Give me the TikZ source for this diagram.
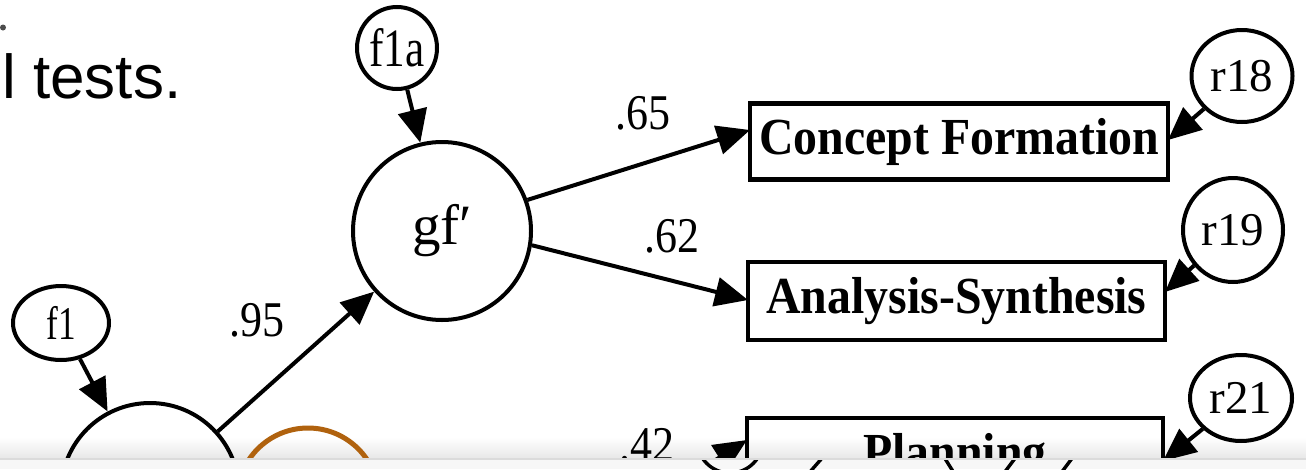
\documentclass[tikz,border=0pt]{standalone}
\usepackage{fontspec}
\setmainfont{Liberation Serif}
\newfontfamily\sansf{Liberation Sans}
\usetikzlibrary{arrows.meta,shapes.geometric}
\definecolor{ochre}{RGB}{176,98,14}
\begin{document}
\begin{tikzpicture}[x=1pt,y=-1pt,
  latent/.style={circle,draw,line width=4,minimum size=178,inner sep=0},
  resid/.style={ellipse,draw,line width=4,inner sep=0},
  obsbox/.style={rectangle,draw,line width=4.4,inner sep=0,minimum height=76,minimum width=418,
     font=\fontsize{52}{54}\selectfont\bfseries},
  arr/.style={line width=4,-{Triangle[length=33pt,width=29pt]}},
  coef/.style={inner sep=0,font=\fontsize{50}{52}\selectfont},
  rlab/.style={font=\fontsize{47}{49}\selectfont}]
\useasboundingbox (0,0) rectangle (1306,469);
\fill[white] (0,0) rectangle (1306,469);
% background gradient of the viewer bar
\shade[top color=white,bottom color=black!9] (0,437) rectangle (1306,458);

\begin{scope}
\clip (0,0) rectangle (1306,458);
% stray text of the slide
\fill[black!70] (3,27.5) circle (3);
\node[anchor=base west,inner sep=0,font=\sansf\fontsize{62}{64}\selectfont] (txt) at (2,98) {l tests.};

% latent factors
\node[latent,font=\fontsize{57}{60}\selectfont] (gf) at (442,231) {gf′};
\node[latent] (g) at (150,492) {};
\draw[ochre,line width=5] (308,499) circle (71);

% disturbances
\node[resid,minimum width=80,minimum height=82,rlab] (f1a) at (397,48) {\fontsize{54}{56}\selectfont\scalebox{0.8}[1]{f1a}};
\node[resid,minimum width=96,minimum height=74,rlab] (f1) at (61,323) {\scalebox{0.75}[1]{f1}};
\node[resid,minimum width=101,minimum height=92,rlab] (r18) at (1242,76) {r18};
\node[resid,minimum width=100,minimum height=104,rlab] (r19) at (1233,230) {r19};
\node[resid,minimum width=102,minimum height=86,rlab] (r21) at (1241,398) {r21};

% indicators
\node[obsbox] (cf) at (959,141.5) {\scalebox{0.92}[1]{Concept Formation}};
\node[obsbox,minimum width=417,minimum height=78] (as) at (956.5,301) {\scalebox{0.92}[1]{Analysis-Synthesis}};
\node[obsbox,minimum width=416,minimum height=78] (pl) at (955,457) {\scalebox{0.92}[1]{Planning}};

% arrow end points on the boxes
\coordinate (cfL) at (750,130);
\coordinate (asL) at (748,300);
\coordinate (plL) at (747,440);
\coordinate (plS) at (695,473);
\coordinate (cfR) at (1168,140);
\coordinate (asR) at (1165,292);
\coordinate (plR) at (1163,461);

% paths
\draw[arr] (f1a) -- (gf);
\draw[arr] (f1) -- (g);
\draw[arr] (g) -- (gf);
\draw[arr] (gf.20) -- (cfL);
\draw[arr] (gf.-9) -- (asL);
\draw[arr] (plS) -- (plL);
\draw[arr] (r18) -- (cfR);
\draw[arr] (r19) -- (asR);
\draw[arr] (r21) -- (plR);

% coefficients
\node[coef] (c95) at (257,320) {\scalebox{0.88}[1]{.95}};
\node[coef] (c65) at (643,113) {\scalebox{0.88}[1]{.65}};
\node[coef] (c62) at (672,236) {\scalebox{0.88}[1]{.62}};
\node[coef] (c42) at (647,445) {\scalebox{0.88}[1]{.42}};
\end{scope}

% bottom edge of the viewer bar
\fill[black!14] (0,457.5) rectangle (1306,460);
\fill[white!97!black] (0,460) rectangle (1306,469);
\begin{scope}
\clip (0,460) rectangle (1306,469);
\draw[line width=3.4] (730,440) circle (33);
\draw[line width=3.4] (823,457) -- (809,473);
\draw[line width=3.4] (944,457) -- (954,473);
\draw[line width=3.4] (1016,457) -- (1004,473);
\draw[line width=3.4] (1073,457) -- (1061,473);
\end{scope}
\end{tikzpicture}
\end{document}
